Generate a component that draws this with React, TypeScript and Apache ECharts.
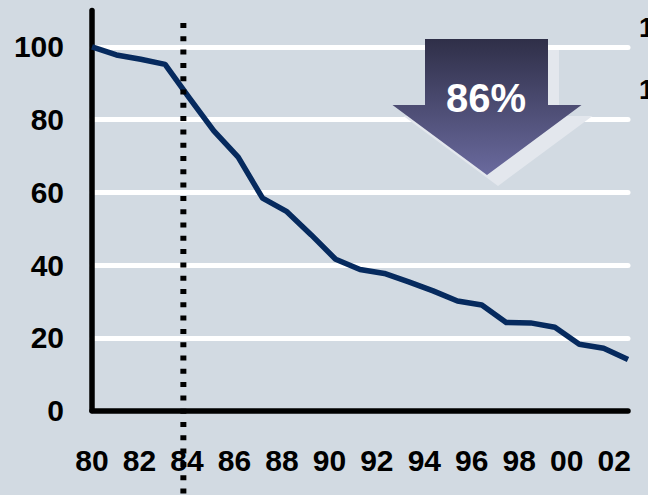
import React, { useEffect, useRef } from "react";
import * as echarts from "echarts";

// Index of the measured quantity, 1980 = 100
const years = [
  1980, 1981, 1982, 1983, 1984, 1985, 1986, 1987, 1988, 1989, 1990, 1991,
  1992, 1993, 1994, 1995, 1996, 1997, 1998, 1999, 2000, 2001, 2002,
];
const indexValues = [
  100, 97.8, 96.6, 95.2, 85.9, 76.9, 69.7, 58.4, 54.7, 48.3, 41.6, 38.8,
  37.7, 35.4, 32.9, 30.1, 29.0, 24.2, 24.1, 22.9, 18.2, 17.1, 14,
];
const xTickLabels = ["80", "82", "84", "86", "88", "90", "92", "94", "96", "98", "00", "02"];
const yTicks = [0, 20, 40, 60, 80, 100];
const declineLabel = "86%";
const markerYear = 1983.75;
const edgeLabels = ["1", "1"];

const FONT = "'Liberation Sans', Arial, sans-serif";
const NARROW = "'Liberation Sans Narrow', 'Arial Narrow', 'Liberation Sans', sans-serif";
const BG = "#d2dae2";

export default function App() {
  const ref = useRef<HTMLDivElement>(null);

  useEffect(() => {
    if (!ref.current) return;
    const chart = echarts.init(ref.current, undefined, { renderer: "svg" });

    chart.setOption({
      animation: false,
      backgroundColor: BG,
      grid: { left: 92, right: 20, top: 10.6, bottom: 84.5 },
      xAxis: [
        {
          type: "value",
          min: years[0],
          max: years[years.length - 1],
          axisLine: {
            show: true,
            lineStyle: { color: "#000", width: 5.5, cap: "round" },
          },
          axisTick: { show: false },
          axisLabel: { show: false },
          splitLine: { show: false },
        },
        {
          // tick labels of the year axis
          type: "value",
          position: "bottom",
          min: 1980,
          max: 2002.58,
          interval: 2,
          axisLine: { show: false },
          axisTick: { show: false },
          splitLine: { show: false },
          axisLabel: {
            margin: 35,
            showMaxLabel: false,
            color: "#000",
            fontFamily: NARROW,
            fontWeight: "bold",
            fontSize: 30,
            formatter: (v: number) => {
              const i = Math.round((v - 1980) / 2);
              return Math.abs(v - 1980 - i * 2) < 1e-6 ? xTickLabels[i] ?? "" : "";
            },
          },
        },
      ],
      yAxis: {
        type: "value",
        min: 0,
        max: 110,
        interval: 20,
        axisLine: {
          show: true,
          lineStyle: { color: "#000", width: 5.5, cap: "round" },
        },
        axisTick: { show: false },
        axisLabel: {
          margin: 28,
          showMaxLabel: false,
          color: "#000",
          fontFamily: FONT,
          fontWeight: "bold",
          fontSize: 30,
          formatter: (v: number) => (yTicks.includes(v) ? String(v) : ""),
        },
        splitLine: {
          show: true,
          showMaxLine: false,
          showMinLine: false,
          lineStyle: { color: "#ffffff", width: 5, cap: "round" },
        },
      },
      series: [
        {
          type: "line",
          xAxisIndex: 0,
          data: years.map((y, i) => [y, indexValues[i]]),
          symbol: "none",
          z: 3,
          lineStyle: { color: "#062a5e", width: 5.5, join: "round", cap: "butt" },
        },
      ],
    });

    const markerX = chart.convertToPixel({ xAxisIndex: 0 }, markerYear) as number;

    const arrow = [
      [425, 39],
      [548, 39],
      [548, 105],
      [581.5, 105],
      [487, 175],
      [392.5, 105],
      [425, 105],
    ];

    chart.setOption({
      graphic: [
        {
          type: "line",
          z: 20,
          shape: { x1: markerX, y1: 23, x2: markerX, y2: 495 },
          style: { stroke: "#000", lineWidth: 6, lineDash: [5, 8.3] },
        },
        {
          type: "polygon",
          z: 20,
          shape: { points: arrow.map(([x, y]) => [x + 11, y + 11]) },
          style: { fill: "#e3e7ed" },
        },
        {
          type: "polygon",
          z: 21,
          shape: { points: arrow },
          style: {
            fill: new echarts.graphic.LinearGradient(0, 0, 0, 1, [
              { offset: 0, color: "#2f2f48" },
              { offset: 1, color: "#6a6a9e" },
            ]),
          },
        },
        {
          type: "text",
          z: 22,
          x: 486,
          y: 98,
          style: {
            text: declineLabel,
            fill: "#ffffff",
            font: `bold 40px ${FONT}`,
            align: "center",
            verticalAlign: "middle",
          },
        },
        ...edgeLabels.map((t, i) => ({
          type: "text",
          z: 22,
          x: 639,
          y: i === 0 ? 27.5 : 90,
          style: {
            text: t,
            fill: "#000",
            font: `bold 27px ${FONT}`,
            align: "left",
            verticalAlign: "middle",
          },
        })),
      ],
    });

    return () => chart.dispose();
  }, []);

  return (
    <div
      ref={ref}
      style={{ position: "absolute", left: 0, top: 0, width: 648, height: 495 }}
    />
  );
}
